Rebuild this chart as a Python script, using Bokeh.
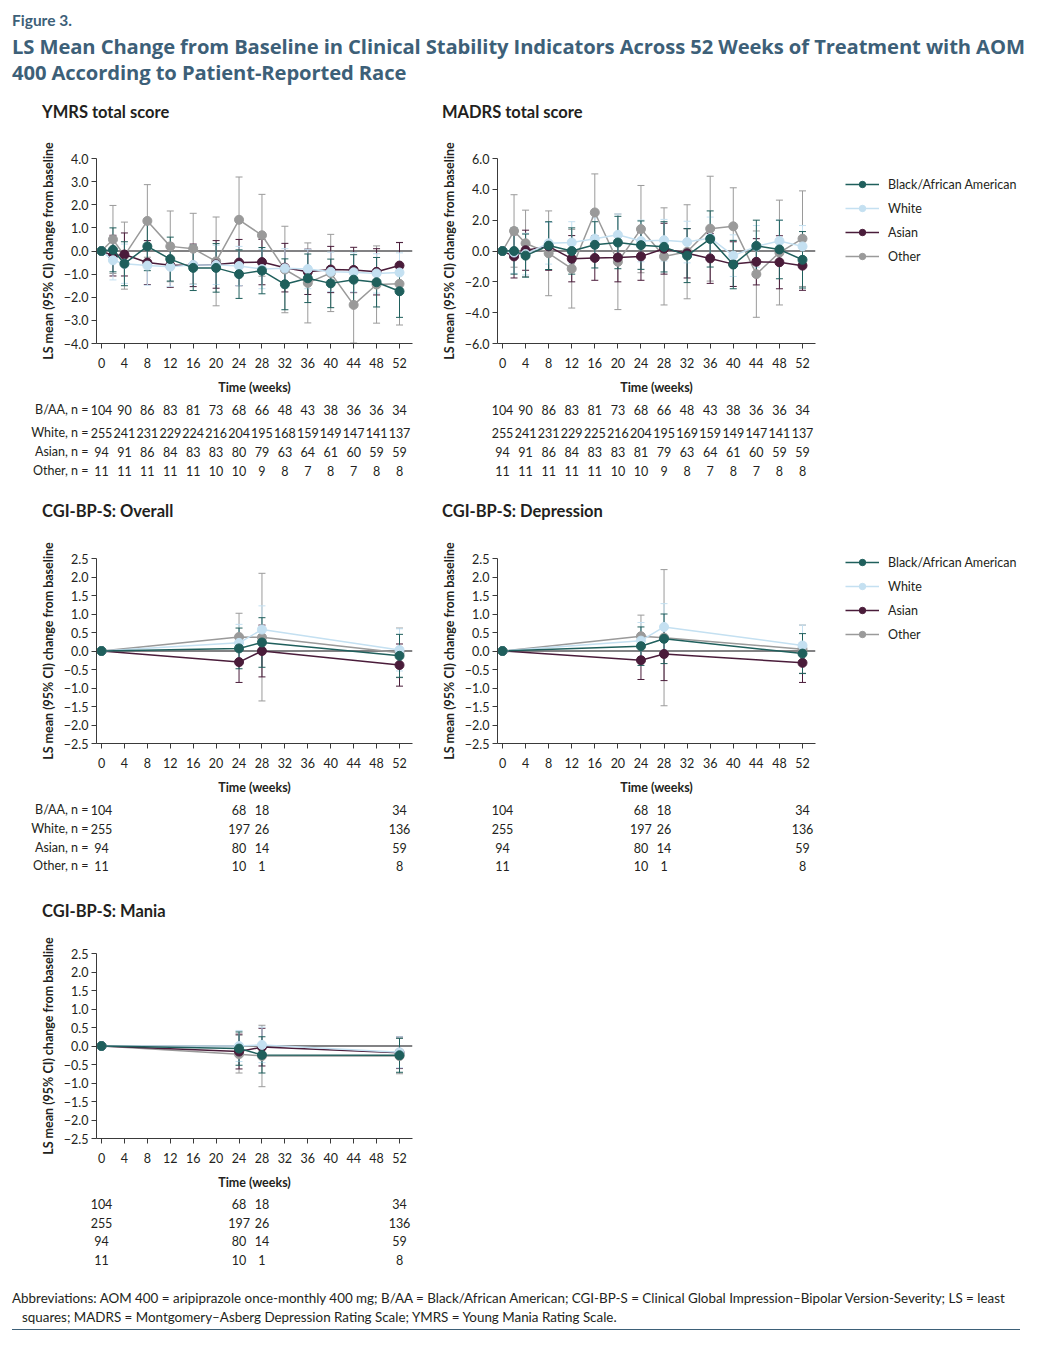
from bokeh.plotting import figure
from bokeh.models import (Range1d, FixedTicker, CustomJSTickFormatter, Span, Whisker,
                          TeeHead, ColumnDataSource, Legend, LegendItem, Div)
from bokeh.layouts import column, row
from bokeh.embed import file_html
from bokeh.resources import INLINE
from bokeh.core.properties import value

# ---------------------------------------------------------------- data
RACES = ["Black/African American", "White", "Asian", "Other"]
ROW_LABELS = ["B/AA, n =", "White, n =", "Asian, n =", "Other, n ="]

WEEKS_LONG = [0, 2, 4, 8, 12, 16, 20, 24, 28, 32, 36, 40, 44, 48, 52]
WEEKS_SHORT = [0, 24, 28, 52]
X_TICKS = [0, 4, 8, 12, 16, 20, 24, 28, 32, 36, 40, 44, 48, 52]
N_WEEKS_LONG = [0, 4, 8, 12, 16, 20, 24, 28, 32, 36, 40, 44, 48, 52]
N_WEEKS_SHORT = [0, 24, 28, 52]

YMRS_YTICKS = [-4.0, -3.0, -2.0, -1.0, 0.0, 1.0, 2.0, 3.0, 4.0]
MADRS_YTICKS = [-6.0, -4.0, -2.0, 0.0, 2.0, 4.0, 6.0]
CGI_YTICKS = [-2.5, -2.0, -1.5, -1.0, -0.5, 0.0, 0.5, 1.0, 1.5, 2.0, 2.5]

# YMRS total score (LS mean, 95% CI lower, upper)
YMRS_BAA = [0, 0.05, -0.55, 0.2, -0.35, -0.73, -0.73, -1.0, -0.85, -1.44, -1.18, -1.4, -1.24, -1.35, -1.74]
YMRS_BAA_LO = [0, -0.9, -1.5, -0.85, -1.3, -1.71, -1.78, -2.05, -1.85, -2.54, -2.23, -2.45, -2.32, -2.42, -2.87]
YMRS_BAA_HI = [0, 1.0, 0.4, 1.25, 0.6, 0.25, 0.32, 0.05, 0.15, -0.34, -0.13, -0.35, -0.16, -0.28, -0.61]
YMRS_WHITE = [0, -0.4, -0.55, -0.63, -0.68, -0.6, -0.6, -0.65, -0.78, -0.75, -0.78, -0.9, -0.92, -0.97, -0.93]
YMRS_WHITE_LO = [0, -1.25, -1.4, -1.48, -1.53, -1.45, -1.45, -1.5, -1.63, -1.6, -1.63, -1.75, -1.77, -1.82, -1.78]
YMRS_WHITE_HI = [0, 0.45, 0.3, 0.22, 0.17, 0.25, 0.25, 0.2, 0.07, 0.1, 0.07, -0.05, -0.07, -0.12, -0.08]
YMRS_ASIAN = [0, -0.2, -0.15, -0.5, -0.62, -0.62, -0.58, -0.5, -0.48, -0.72, -0.9, -0.8, -0.82, -0.9, -0.63]
YMRS_ASIAN_LO = [0, -1.08, -1.08, -1.45, -1.57, -1.54, -1.61, -1.5, -1.46, -1.77, -1.88, -1.8, -1.8, -1.9, -1.63]
YMRS_ASIAN_HI = [0, 0.68, 0.78, 0.45, 0.33, 0.3, 0.45, 0.5, 0.5, 0.33, 0.08, 0.2, 0.16, 0.1, 0.37]
YMRS_OTHER = [0, 0.5, -0.2, 1.3, 0.2, 0.1, -0.45, 1.35, 0.68, -0.8, -1.38, -0.95, -2.33, -1.45, -1.42]
YMRS_OTHER_LO = [0, -0.97, -1.65, -0.27, -1.33, -1.43, -2.37, -0.5, -1.09, -2.67, -3.11, -2.62, -3.98, -3.12, -3.2]
YMRS_OTHER_HI = [0, 1.97, 1.25, 2.87, 1.73, 1.63, 1.47, 3.2, 2.45, 1.07, 0.35, 0.72, -0.68, 0.22, 0.36]

# MADRS total score
MADRS_BAA = [0, 0.0, -0.3, 0.35, 0.0, 0.4, 0.55, 0.38, 0.27, -0.3, 0.78, -0.88, 0.33, 0.1, -0.57]
MADRS_BAA_LO = [0, -1.5, -1.7, -1.2, -1.5, -1.1, -1.15, -1.19, -1.36, -2.05, -1.04, -2.45, -1.34, -1.8, -2.4]
MADRS_BAA_HI = [0, 1.5, 1.1, 1.9, 1.5, 1.9, 2.25, 1.95, 1.9, 1.45, 2.6, 0.69, 2.0, 2.0, 1.26]
MADRS_WHITE = [0, -0.1, -0.2, 0.5, 0.55, 0.8, 1.05, 0.65, 0.7, 0.58, 0.85, -0.3, 0.3, 0.65, 0.3]
MADRS_WHITE_LO = [0, -1.45, -1.55, -0.85, -0.8, -0.55, -0.3, -0.7, -0.65, -0.77, -0.5, -1.65, -1.05, -0.7, -1.05]
MADRS_WHITE_HI = [0, 1.25, 1.15, 1.85, 1.9, 2.15, 2.4, 2.0, 2.05, 1.93, 2.2, 1.05, 1.65, 2.0, 1.65]
MADRS_ASIAN = [0, -0.35, 0.05, 0.3, -0.5, -0.45, -0.42, -0.35, 0.15, -0.15, -0.48, -0.85, -0.7, -0.73, -0.95]
MADRS_ASIAN_LO = [0, -1.75, -1.25, -1.25, -2.0, -1.9, -2.0, -1.9, -1.5, -1.75, -2.1, -2.3, -2.2, -2.45, -2.55]
MADRS_ASIAN_HI = [0, 1.05, 1.35, 1.85, 1.0, 1.0, 1.16, 1.2, 1.8, 1.45, 1.14, 0.6, 0.8, 0.99, 0.65]
MADRS_OTHER = [0, 1.3, 0.5, -0.15, -1.15, 2.5, -0.7, 1.42, -0.35, -0.05, 1.45, 1.6, -1.5, -0.1, 0.8]
MADRS_OTHER_LO = [0, -1.05, -1.65, -2.9, -3.7, 0.0, -3.8, -1.41, -3.5, -3.1, -1.95, -0.9, -4.3, -3.5, -2.3]
MADRS_OTHER_HI = [0, 3.65, 2.65, 2.6, 1.4, 5.0, 2.4, 4.25, 2.8, 3.0, 4.85, 4.1, 1.3, 3.3, 3.9]

# CGI-BP-S: Overall
OVR_BAA = [0, 0.07, 0.23, -0.13]
OVR_BAA_LO = [0, -0.48, -0.44, -0.71]
OVR_BAA_HI = [0, 0.62, 0.9, 0.45]
OVR_WHITE = [0, 0.22, 0.58, 0.03]
OVR_WHITE_LO = [0, -0.28, -0.06, -0.54]
OVR_WHITE_HI = [0, 0.72, 1.22, 0.6]
OVR_ASIAN = [0, -0.3, 0.0, -0.38]
OVR_ASIAN_LO = [0, -0.85, -0.7, -0.95]
OVR_ASIAN_HI = [0, 0.25, 0.7, 0.19]
OVR_OTHER = [0, 0.38, 0.37, -0.05]
OVR_OTHER_LO = [0, -0.26, -1.35, -0.72]
OVR_OTHER_HI = [0, 1.02, 2.1, 0.62]

# CGI-BP-S: Depression
DEP_BAA = [0, 0.13, 0.33, -0.07]
DEP_BAA_LO = [0, -0.39, -0.34, -0.61]
DEP_BAA_HI = [0, 0.65, 1.0, 0.47]
DEP_WHITE = [0, 0.28, 0.65, 0.15]
DEP_WHITE_LO = [0, -0.21, 0.02, -0.4]
DEP_WHITE_HI = [0, 0.77, 1.28, 0.7]
DEP_ASIAN = [0, -0.25, -0.08, -0.32]
DEP_ASIAN_LO = [0, -0.77, -0.8, -0.85]
DEP_ASIAN_HI = [0, 0.27, 0.64, 0.21]
DEP_OTHER = [0, 0.4, 0.36, 0.05]
DEP_OTHER_LO = [0, -0.17, -1.48, -0.6]
DEP_OTHER_HI = [0, 0.97, 2.2, 0.7]

# CGI-BP-S: Mania
MAN_BAA = [0, -0.07, -0.24, -0.25]
MAN_BAA_LO = [0, -0.52, -0.73, -0.71]
MAN_BAA_HI = [0, 0.38, 0.25, 0.21]
MAN_WHITE = [0, 0.0, 0.03, -0.17]
MAN_WHITE_LO = [0, -0.42, -0.45, -0.59]
MAN_WHITE_HI = [0, 0.42, 0.51, 0.25]
MAN_ASIAN = [0, -0.15, -0.03, -0.18]
MAN_ASIAN_LO = [0, -0.62, -0.54, -0.61]
MAN_ASIAN_HI = [0, 0.32, 0.48, 0.25]
MAN_OTHER = [0, -0.22, -0.27, -0.27]
MAN_OTHER_LO = [0, -0.73, -1.1, -0.75]
MAN_OTHER_HI = [0, 0.29, 0.56, 0.21]

# Patient counts under the x axis
YMRS_N_BAA = [104, 90, 86, 83, 81, 73, 68, 66, 48, 43, 38, 36, 36, 34]
YMRS_N_WHITE = [255, 241, 231, 229, 224, 216, 204, 195, 168, 159, 149, 147, 141, 137]
YMRS_N_ASIAN = [94, 91, 86, 84, 83, 83, 80, 79, 63, 64, 61, 60, 59, 59]
YMRS_N_OTHER = [11, 11, 11, 11, 11, 10, 10, 9, 8, 7, 8, 7, 8, 8]
MADRS_N_BAA = [104, 90, 86, 83, 81, 73, 68, 66, 48, 43, 38, 36, 36, 34]
MADRS_N_WHITE = [255, 241, 231, 229, 225, 216, 204, 195, 169, 159, 149, 147, 141, 137]
MADRS_N_ASIAN = [94, 91, 86, 84, 83, 83, 81, 79, 63, 64, 61, 60, 59, 59]
MADRS_N_OTHER = [11, 11, 11, 11, 11, 10, 10, 9, 8, 7, 8, 7, 8, 8]
CGI_N_BAA = [104, 68, 18, 34]
CGI_N_WHITE = [255, 197, 26, 136]
CGI_N_ASIAN = [94, 80, 14, 59]
CGI_N_OTHER = [11, 10, 1, 8]

# ---------------------------------------------------------------- style
FONT = "Lato"
TXT = "#231f20"
SLATE = "#3d6078"
COLORS = {
    "Black/African American": "#1f5f5c",
    "White": "#c4e0f1",
    "Asian": "#4a1c3a",
    "Other": "#9a9a9a",
}
DRAW_ORDER = ["Other", "Asian", "White", "Black/African American"]
FRAME_H = 185

COL = {
    "left": dict(page_left=8, x0=101.0, pxw=298 / 52, width=412,
                 chart_bl=88, chart_fw=316, table_bl=81, table_fw=324),
    "right": dict(page_left=420, x0=502.0, pxw=300 / 52, width=614,
                  chart_bl=77, chart_fw=318, table_bl=70, table_fw=327),
}

YFMT = CustomJSTickFormatter(code="return (tick < 0 ? '\u2212' : '') + Math.abs(tick).toFixed(1);")


def x_range_for(col, bl, fw):
    c = COL[col]
    start = -(c["x0"] - c["page_left"] - bl) / c["pxw"]
    return Range1d(start, start + fw / c["pxw"])


def make_chart(col, weeks, series, yticks, top_border, legend_top=None):
    c = COL[col]
    bl, fw = c["chart_bl"], c["chart_fw"]
    br = c["width"] - bl - fw
    p = figure(frame_width=fw, frame_height=FRAME_H,
               x_range=x_range_for(col, bl, fw), y_range=Range1d(yticks[0], yticks[-1]),
               min_border_left=bl, min_border_right=br, min_border_top=top_border,
               min_border_bottom=55, output_backend="svg", toolbar_location=None,
               outline_line_color=None)
    p.xgrid.visible = False
    p.ygrid.visible = False

    for ax in (p.xaxis, p.yaxis):
        ax.axis_line_color = "#3a3a3a"
        ax.axis_line_width = 1
        ax.major_tick_line_color = "#3a3a3a"
        ax.major_tick_out = 5
        ax.major_tick_in = 0
        ax.minor_tick_line_color = None
        ax.major_label_text_font = FONT
        ax.major_label_text_font_size = "12.5px"
        ax.major_label_text_color = TXT
        ax.axis_label_text_font = FONT
        ax.axis_label_text_font_style = "bold"
        ax.axis_label_text_font_size = "12.5px"
        ax.axis_label_text_color = TXT

    p.xaxis.ticker = FixedTicker(ticks=X_TICKS)
    p.xaxis.axis_label = "Time (weeks)"
    p.xaxis.major_label_standoff = 9
    p.xaxis.axis_label_standoff = 9

    p.yaxis.ticker = FixedTicker(ticks=yticks)
    p.yaxis.formatter = YFMT
    p.yaxis.axis_label = "LS mean (95% CI) change from baseline"
    p.yaxis.major_label_standoff = 3
    p.yaxis.axis_label_standoff = 5

    p.add_layout(Span(location=0, dimension="width", line_color="#58595b",
                      line_width=1.5, level="underlay"))

    items = {}
    for race in DRAW_ORDER:
        mean, lo, hi = series[race]
        color = COLORS[race]
        src = ColumnDataSource(dict(x=weeks[1:], lo=lo[1:], hi=hi[1:]))
        p.add_layout(Whisker(source=src, base="x", lower="lo", upper="hi",
                             line_color=color, line_width=1,
                             upper_head=TeeHead(size=7, line_color=color, line_width=1),
                             lower_head=TeeHead(size=7, line_color=color, line_width=1)))
        lr = p.line(weeks, mean, line_color=color, line_width=1.5)
        sr = p.scatter(weeks, mean, size=9, fill_color=color, line_color=color)
        items[race] = [lr, sr]

    if legend_top is not None:
        frame_right_page = c["page_left"] + bl + fw
        leg_h = 4 * 16 + 3 * 8
        legend = Legend(items=[LegendItem(label=r, renderers=items[r]) for r in RACES],
                        location=(845 - frame_right_page, FRAME_H - legend_top - leg_h),
                        glyph_width=34, glyph_height=16, label_height=16, label_standoff=9,
                        spacing=8, padding=0, margin=0, border_line_color=None,
                        background_fill_alpha=0, label_text_font=FONT,
                        label_text_font_size="12.5px", label_text_color=TXT)
        p.add_layout(legend, "right")
    return p


def make_table(col, weeks, counts, row_offsets, height, show_labels):
    c = COL[col]
    bl, fw = c["table_bl"], c["table_fw"]
    br = c["width"] - bl - fw
    p = figure(frame_width=fw, frame_height=height,
               x_range=x_range_for(col, bl, fw), y_range=Range1d(height, 0),
               min_border_left=bl, min_border_right=br, min_border_top=0,
               min_border_bottom=0, output_backend="svg", toolbar_location=None,
               outline_line_color=None, x_axis_location=None,
               y_axis_location="left" if show_labels else None)
    p.xgrid.visible = False
    p.ygrid.visible = False
    xs, ys, ts = [], [], []
    for off, vals in zip(row_offsets, counts):
        for w, v in zip(weeks, vals):
            xs.append(w)
            ys.append(off)
            ts.append(str(v))
    p.text(x=xs, y=ys, text=ts, text_align="center", text_baseline="middle",
           text_font=value(FONT), text_font_size="12.5px", text_color=TXT)
    if show_labels:
        ax = p.yaxis[0]
        ax.ticker = FixedTicker(ticks=row_offsets)
        ax.major_label_overrides = {o: lab for o, lab in zip(row_offsets, ROW_LABELS)}
        ax.axis_line_color = None
        ax.major_tick_line_color = None
        ax.minor_tick_line_color = None
        ax.major_tick_out = 0
        ax.major_tick_in = 0
        ax.major_label_standoff = 1
        ax.major_label_text_font = FONT
        ax.major_label_text_font_size = "12.5px"
        ax.major_label_text_color = TXT
    return p


def title_div(text, pad, width):
    return Div(text=(f'<div style="font-family:{FONT};font-weight:bold;font-size:16.5px;'
                     f'color:{TXT};line-height:24px;padding-left:{pad}px;white-space:nowrap;">'
                     f'{text}</div>'), width=width, height=24, margin=0)


def series(baa, baa_lo, baa_hi, wh, wh_lo, wh_hi, asn, asn_lo, asn_hi, oth, oth_lo, oth_hi):
    return {"Black/African American": (baa, baa_lo, baa_hi), "White": (wh, wh_lo, wh_hi),
            "Asian": (asn, asn_lo, asn_hi), "Other": (oth, oth_lo, oth_hi)}


# ---------------------------------------------------------------- panels
ymrs = make_chart("left", WEEKS_LONG, series(YMRS_BAA, YMRS_BAA_LO, YMRS_BAA_HI,
                                             YMRS_WHITE, YMRS_WHITE_LO, YMRS_WHITE_HI,
                                             YMRS_ASIAN, YMRS_ASIAN_LO, YMRS_ASIAN_HI,
                                             YMRS_OTHER, YMRS_OTHER_LO, YMRS_OTHER_HI),
                  YMRS_YTICKS, 34)
madrs = make_chart("right", WEEKS_LONG, series(MADRS_BAA, MADRS_BAA_LO, MADRS_BAA_HI,
                                               MADRS_WHITE, MADRS_WHITE_LO, MADRS_WHITE_HI,
                                               MADRS_ASIAN, MADRS_ASIAN_LO, MADRS_ASIAN_HI,
                                               MADRS_OTHER, MADRS_OTHER_LO, MADRS_OTHER_HI),
                   MADRS_YTICKS, 34, legend_top=18)
ovr = make_chart("left", WEEKS_SHORT, series(OVR_BAA, OVR_BAA_LO, OVR_BAA_HI,
                                             OVR_WHITE, OVR_WHITE_LO, OVR_WHITE_HI,
                                             OVR_ASIAN, OVR_ASIAN_LO, OVR_ASIAN_HI,
                                             OVR_OTHER, OVR_OTHER_LO, OVR_OTHER_HI),
                 CGI_YTICKS, 35)
dep = make_chart("right", WEEKS_SHORT, series(DEP_BAA, DEP_BAA_LO, DEP_BAA_HI,
                                              DEP_WHITE, DEP_WHITE_LO, DEP_WHITE_HI,
                                              DEP_ASIAN, DEP_ASIAN_LO, DEP_ASIAN_HI,
                                              DEP_OTHER, DEP_OTHER_LO, DEP_OTHER_HI),
                 CGI_YTICKS, 35, legend_top=-4)
man = make_chart("left", WEEKS_SHORT, series(MAN_BAA, MAN_BAA_LO, MAN_BAA_HI,
                                             MAN_WHITE, MAN_WHITE_LO, MAN_WHITE_HI,
                                             MAN_ASIAN, MAN_ASIAN_LO, MAN_ASIAN_HI,
                                             MAN_OTHER, MAN_OTHER_LO, MAN_OTHER_HI),
                 CGI_YTICKS, 30)

ymrs_n = [YMRS_N_BAA, YMRS_N_WHITE, YMRS_N_ASIAN, YMRS_N_OTHER]
madrs_n = [MADRS_N_BAA, MADRS_N_WHITE, MADRS_N_ASIAN, MADRS_N_OTHER]
cgi_n = [CGI_N_BAA, CGI_N_WHITE, CGI_N_ASIAN, CGI_N_OTHER]

t_ymrs = make_table("left", N_WEEKS_LONG, ymrs_n, [11, 34, 53, 72], 101, True)
t_madrs = make_table("right", N_WEEKS_LONG, madrs_n, [11, 34, 53, 72], 101, False)
t_ovr = make_table("left", N_WEEKS_SHORT, cgi_n, [11, 30, 49, 67], 101, True)
t_dep = make_table("right", N_WEEKS_SHORT, cgi_n, [11, 30, 49, 67], 101, False)
t_man = make_table("left", N_WEEKS_SHORT, cgi_n, [10, 29, 47, 66], 92, False)

header = Div(text=(
    f'<div style="color:{SLATE};padding-left:4px;white-space:nowrap;">'
    f'<div style="font-family:{FONT};font-size:15.5px;font-weight:bold;line-height:20px;'
    f'padding-top:2px;">Figure 3.</div>'
    f'<div style="font-family:\'Open Sans\';font-size:20.2px;font-weight:bold;line-height:26px;'
    f'margin-top:3px;letter-spacing:-0.1px;">LS Mean Change from Baseline in Clinical Stability '
    f'Indicators Across 52 Weeks of Treatment with AOM<br>400 According to Patient-Reported Race'
    f'</div></div>'), width=1026, height=92, margin=0)

footer = Div(text=(
    f'<div style="font-family:{FONT};font-size:13.4px;color:{TXT};line-height:19px;'
    f'padding:4px 0 2px 10px;text-indent:-10px;margin-left:4px;width:1008px;'
    f'border-bottom:1.5px solid {SLATE};white-space:nowrap;">'
    f'Abbreviations: AOM 400 = aripiprazole once-monthly 400 mg; B/AA = Black/African American; '
    f'CGI-BP-S = Clinical Global Impression\u2013Bipolar Version-Severity; LS = least<br>'
    f'squares; MADRS = Montgomery\u2013Asberg Depression Rating Scale; '
    f'YMRS = Young Mania Rating Scale.</div>'), width=1026, height=50, margin=0)

charts1 = row(column(title_div("YMRS total score", 34, 412), ymrs),
              column(title_div("MADRS total score", 22, 614), madrs))
tables1 = row(t_ymrs, t_madrs)
charts2 = row(column(title_div("CGI-BP-S: Overall", 34, 412), ovr),
              column(title_div("CGI-BP-S: Depression", 22, 614), dep))
tables2 = row(t_ovr, t_dep)
charts3 = row(column(title_div("CGI-BP-S: Mania", 34, 412), man))
tables3 = row(t_man)

page = column(header, charts1, tables1, charts2, tables2, charts3, tables3, footer,
              margin=(8, 0, 0, 8))

open("out.html", "w").write(file_html(page, INLINE))
